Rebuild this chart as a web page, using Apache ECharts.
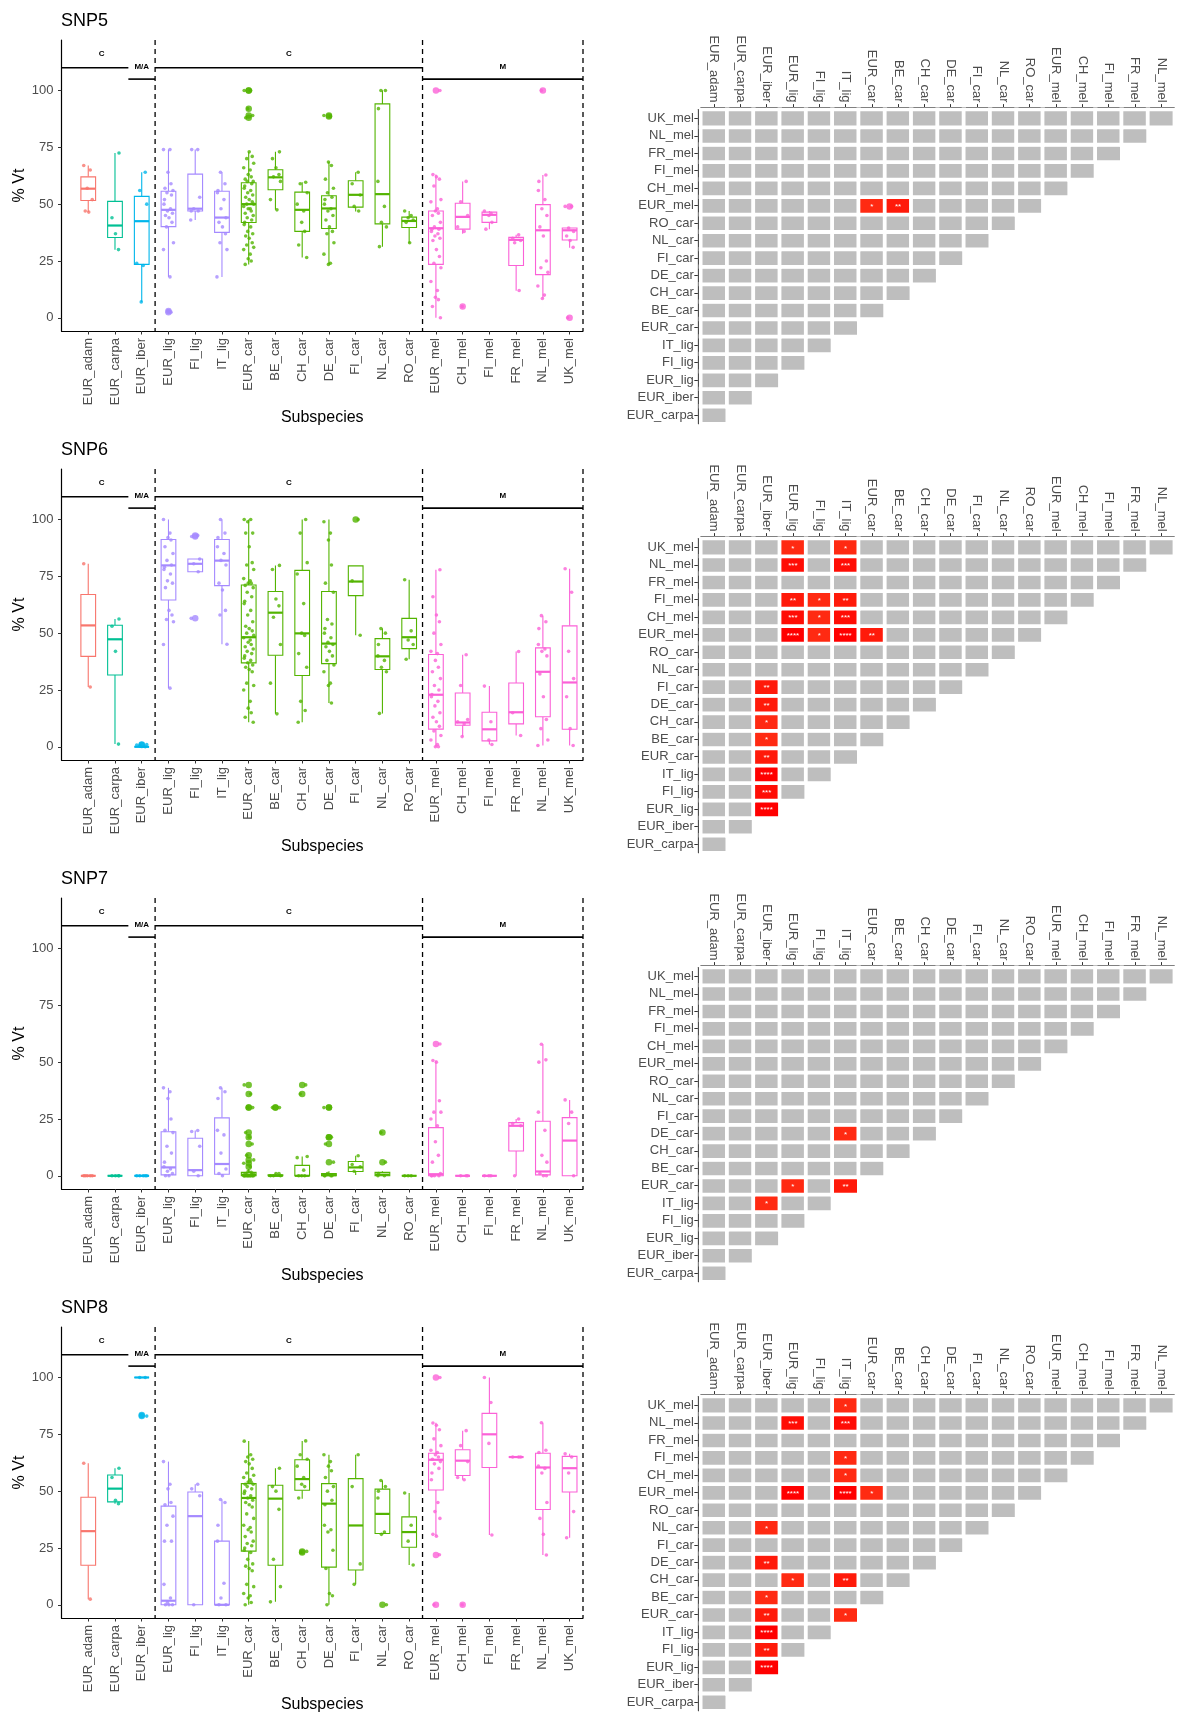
<!DOCTYPE html>
<html><head><meta charset="utf-8">
<script src="https://cdn.jsdelivr.net/npm/echarts@6/dist/echarts.min.js"></script>
<style>html,body{margin:0;padding:0;background:#fff}#chart{width:1178px;height:1716px}</style>
</head><body><div id="chart"></div>
<script>
// ---------- categories ----------
const groups = ['EUR_adam','EUR_carpa','EUR_iber','EUR_lig','FI_lig','IT_lig','EUR_car','BE_car','CH_car','DE_car','FI_car','NL_car','RO_car','EUR_mel','CH_mel','FI_mel','FR_mel','NL_mel','UK_mel'];
const heatCols = groups.slice(0, 18);
const heatRows = groups.slice(1);
const yTicks = [0, 25, 50, 75, 100];
const snpNames = ['SNP5', 'SNP6', 'SNP7', 'SNP8'];

// bracket annotations: [x1, x2, y], labels [x, y, text], dashed dividers
const bracketLines = [[0, 2.5, 110], [2.5, 3.5, 105], [3.5, 13.5, 110], [13.5, 19.5, 105]];
const bracketText = [[1.5, 116, 'C'], [3, 110.5, 'M/A'], [8.5, 116, 'C'], [16.5, 110.5, 'M']];
const dividerX = [3.5, 13.5, 19.5];

// ---------- box stats [low whisker, Q1, median, Q3, high whisker] ----------
const snp5Box = [[46.5,51.6,56.8,62,67],[29.9,35.3,40.6,51.2,72.5],[7,23.5,42.5,53.4,64],[18,40.1,47.5,55.7,74],[43,47,48,63.2,74],[18,37.6,44.1,55.7,64],[23.5,41.9,50,59.4,73],[47.5,56.3,61.8,65.1,73],[26.5,38,47.5,55.3,59.6],[23.5,39.3,48.1,53.7,68.5],[46.8,48.7,54.1,60.3,64],[31.3,41.3,54.4,94.1,100],[32.8,39.7,42.6,44.3,47],[0,23.5,39.4,47,63],[37,39,44.4,50.4,60],[39,42,45.3,46.5,47],[11.9,23,34.3,35.4,36.5],[8.5,19,38.5,49.8,62.8],[30.8,34.2,38.5,39.5,39.5]];
const snp6Box = [[26.3,39.8,53.4,67,80.5],[1.2,31.6,47.3,53.5,56.2],[0,0,0,0,0],[25.8,64.6,79.8,91.2,100],[77,77,80.5,82.6,82.6],[45.1,70.9,81.9,91.2,100],[10.8,36.9,48.2,71.2,100],[14.5,40.3,59,68.3,79.8],[10.8,31.4,49.9,77.6,100],[19.3,36.6,45.4,68.3,100],[49.1,66.5,72.7,79.6,79.6],[14.7,34,39.8,47.6,52],[38.5,43.2,48.2,56.5,73.5],[0,7.8,22.9,40.6,77.9],[4.5,9.5,10.7,23.7,40.5],[1,2.6,7.7,15.2,26.7],[5,10.1,15.2,28.1,41.9],[0.6,13.2,33,43.5,57.7],[0.6,7.7,28.3,53.2,78.3]];
const snp7Box = [[0,0,0,0,0],[0,0,0,0,0],[0,0,0,0,0],[0,0.4,3.7,19.4,38.7],[0,0,2.5,16.5,19.9],[0,0.7,5.2,25.5,38.7],[0,0,0.5,1.5,3],[0,0,0,0.5,1],[0,0,0,4.6,8.5],[0,0,0.3,1,2],[0.4,1.9,3.7,6.3,8.8],[0,0,0.5,1.5,2],[0,0,0,0,0],[0,0,0.7,21.2,50.7],[0,0,0,0,0],[0,0,0,0,0],[0,10.9,22,23.4,25],[0,0.4,1.9,24,57.9],[0,0,15.5,25.6,33.4]];
const snp8Box = [[2.5,17.4,32.4,47.3,62.3],[44.5,45.3,51.1,57.1,60.1],[100,100,100,100,100],[0,0,1.8,43.4,63],[0,0,39,49.6,53],[0,0,0,28,46.3],[0,23.6,47,53.3,72.1],[1.3,17.4,46.7,52.6,60.1],[46.7,50.4,55.3,63.8,72.1],[0,16.6,44.5,53.3,66],[9,15.3,34.9,55.5,66],[31,31.4,40,50.9,54.7],[17.5,25.3,32,38.7,49.2],[30.2,50.5,63.8,66.7,80.1],[55,56.9,63.4,68.2,76.6],[30.7,60.4,75,84.2,100],[65,65,65,65,65],[21.9,41.9,60.4,66.7,80.1],[29.5,49.6,60.1,65.3,66.4]];

// ---------- outliers per group ----------
const snp5Out = [[],[],[],[3,2.5],[],[],[100,100,92,89,88],[],[],[89,88.5],[],[],[],[100],[5],[],[],[100],[49,0]];
const snp6Out = [[],[],[1,0.8],[],[93,92.5,56.5],[],[],[],[],[],[100],[],[],[],[],[],[],[],[]];
const snp7Out = [[],[],[],[],[],[],[40,36,30,30,19,17,14,9,7,5.5,4],[30,30],[40,36],[30,30,17,17,14,6],[],[19,6],[],[58],[],[],[],[],[]];
const snp8Out = [[],[],[83,83.5],[],[],[],[],[],[23.4,23],[],[],[0],[],[100,21.9,0],[0],[],[],[],[]];

// ---------- individual observations per group ----------
const snp5Pts = [
 [67,65,57,52,47,46.5],[72.5,44,37,30],[64,56,50,24,23,7],
 [74,74,64,59,57,56,55,54,52,50,48,47,46,45,44,42,40,33,30,18,3,2.5],
 [74,74,53,48,47,47,43],[64,59,56,55,52,48,44,42,40,37,33,30,18],
 [100,100,92,89,88,73,71,70,68,66,65,63,62,61,60,60,59,58,57,56,55,54,53,52,51,50,50,49,48,48,47,46,45,44,43,42,41,40,38,37,36,35,33,32,31,30,28,26,25,23.5],
 [73,70,66,63,62,60,52,47.5],[59.6,59,55,50,47,42,38,32,26.5],
 [89,88.5,68.5,67,61,57,55,53,52,50,48,47,45,43,40,38,37,33,28,24,23.5],
 [64,59,54,49,47],[100,100,92,60,49,42,40,31.3],[47,45,44,43,42,33],
 [100,63,62,61,58,52,51,48,47,46,45,42,40,39,39,38,37,36,35,34,30,27,24,22,16,12,9,8,5,0],
 [60,51,45,40,38,5],[47,46,45,42,39],[36.5,35,34,33,12],
 [100,62.8,60,56,52,48,45,40,36,25,22,20,14,10,8.5],[49,49,39.5,38,36,34,31,0]];
const snp6Pts = [
 [80.5,26.3],[56.2,53,42,1.2],[0,0.5,1,0.8],
 [100,94,92,91,88,85,82,80,79,78,76,73,72,70,60,58,56,55,45,25.8],
 [93,92.5,82.6,80.5,77,56.5],[100,94,92,88,85,82,80,72,69,60,58,45.1],
 [100,100,99,94,94,88,81,80,78,74,73,72,72,71,70,68,66,64,63,60,58,55,53,52,51,50,49,48,47,46,45,44,43,42,41,40,39,38,37,36,35,34,33,28,27,25,20,17,15,13,10.8],
 [79.8,78,65,62,57,45,28,14.5],[100,94,81,76,63,50,49,41,35,20,16,10.8],
 [99,94,91,80,72,68,56,54,52,50,48,46,45,44,42,40,38,36,33,28,27,19.3],
 [100,73,49.1],[52,50,45,40,38,35,33,14.7],[73.5,51,47,45,38.5],
 [77.9,66,58,55,50,45,42,41,38,35,33,30,27,25,23,22,20,18,15,13,11,9,7,5,3,1,0,0],
 [40.5,27,12,11,10,4.5],[26.7,11,3,1],[41.9,15,5],
 [57.7,55,52,45,43,42,40,32,22,12,8,3,0.6],[78.3,68,42,30,22,8,0.6]];
const snp7Pts = [
 [0,0,0,0,0],[0,0,0,0],[0,0,0,0,0],
 [38.7,37,34,25,20,19,13,10,6,4,3,2,1,0,0],[19.9,19.5,13,2,0],[38.7,37,34,20,18,10,3,1,0],
 [40,36,30,30,19,17,14,9,7,5.5,4,2,1.5,1,1,0.5,0.5,0,0,0,0,0,0,0,0,0,0,0,0,0],
 [30,30,1,1,0,0,0],[40,36,8.5,8,2.5,0,0,0],[30,30,17,17,14,6,1,0,0,0,0],
 [8.8,5,4,2],[19,6,1,0,0],[0,0,0],
 [58,50.7,50,33,28,28,25,22,15,9,6,1,0,0,0,0],
 [0,0,0],[0,0,0],[25,23,22,0],[57.9,51,50,28,20,9,6,1,0,0],[33.4,28,23,0]];
const snp8Pts = [
 [62.3,2.5],[60.1,56,46,44.5],[100,100,83],
 [63,53,51,45,44,39,35,28,28,9,3,1,0,0,0],[53,51,48,0],[46.3,45,35,28,9.5,3,0,0],
 [72,66,65,64,63,62,60,58,57,56,55,54,54,53,53,52,51,50,49,48,47,46,45,44,43,40,38,35,34,33,32,30,28,27,26,25,24,23,20,18,17,16,15,9,8,5,4,3,1,0],
 [60.1,52,50,42,20,8,1.3],[72.1,66,64,61,56,53,52,47,23.5,23],
 [66,63,61,59,56,52,50,46,44,35,33,32,24,16,5,4,0],
 [66,52,18,9],[54.7,52,50,47,32,31,0],[49.2,35,28,17.5],
 [100,80,79,77,73,70,68,67,66,65,64,63,62,60,58,55,45,41,38,31,30.2,22,0],
 [76.6,70,63,56,55,0],[100,89,71,30.7],[65,65,65],
 [80.1,68,67,61,60,58,45,38,31,21.9],[66.4,65,58,41,29.5]];

// ---------- pairwise significance [row, column, label] ----------
const snp5Sig = [['EUR_mel','EUR_car','*'],['EUR_mel','BE_car','**']];
const snp6Sig = [['UK_mel','EUR_lig','*'],['UK_mel','IT_lig','*'],['NL_mel','EUR_lig','***'],['NL_mel','IT_lig','***'],['FI_mel','EUR_lig','**'],['FI_mel','FI_lig','*'],['FI_mel','IT_lig','**'],['CH_mel','EUR_lig','***'],['CH_mel','FI_lig','*'],['CH_mel','IT_lig','***'],['EUR_mel','EUR_lig','****'],['EUR_mel','FI_lig','*'],['EUR_mel','IT_lig','****'],['EUR_mel','EUR_car','**'],['FI_car','EUR_iber','**'],['DE_car','EUR_iber','**'],['CH_car','EUR_iber','*'],['BE_car','EUR_iber','*'],['EUR_car','EUR_iber','**'],['IT_lig','EUR_iber','****'],['FI_lig','EUR_iber','***'],['EUR_lig','EUR_iber','****']];
const snp7Sig = [['DE_car','IT_lig','*'],['EUR_car','EUR_lig','*'],['EUR_car','IT_lig','**'],['IT_lig','EUR_iber','*']];
const snp8Sig = [['UK_mel','IT_lig','*'],['NL_mel','EUR_lig','***'],['NL_mel','IT_lig','***'],['FI_mel','IT_lig','*'],['CH_mel','IT_lig','*'],['EUR_mel','EUR_lig','****'],['EUR_mel','IT_lig','****'],['EUR_mel','EUR_car','*'],['NL_car','EUR_iber','*'],['DE_car','EUR_iber','**'],['CH_car','EUR_lig','*'],['CH_car','IT_lig','**'],['BE_car','EUR_iber','*'],['EUR_car','EUR_iber','**'],['EUR_car','IT_lig','*'],['IT_lig','EUR_iber','****'],['FI_lig','EUR_iber','**'],['EUR_lig','EUR_iber','****']];

// ---------- styles ----------
const lineageColor = {adam:'#F8766D', carpa:'#00C094', iber:'#00B6EB', lig:'#A58AFF', car:'#53B400', mel:'#FB61D7'};
const groupColors = groups.map(g => lineageColor[g.split('_')[1]]);
const jit = [-4.5, 2, -1, 4, -3, 0.5, 3.5, -2, 5, -5, 1.5, -0.5, 2.5, -3.5, 4.5, -1.5, 3, -4];
const FONT = 'Liberation Sans, Arial, Helvetica, sans-serif';
const PERIOD = 429;
const YMIN = -5.8, YMAX = 122.2;

const allBox = [snp5Box, snp6Box, snp7Box, snp8Box];
const allOut = [snp5Out, snp6Out, snp7Out, snp8Out];
const allPts = [snp5Pts, snp6Pts, snp7Pts, snp8Pts];
const allSig = [snp5Sig, snp6Sig, snp7Sig, snp8Sig];

const grids = [], xAxes = [], yAxes = [], titles = [], series = [], heatIdx = [];
const xIdx = groups.map((g, i) => i + 1);

function renderBox(params, api) {
  const x = api.value(0);
  const c = groupColors[x - 1];
  const lo = api.coord([x, api.value(1)]);
  const q1 = api.coord([x, api.value(2)]);
  const md = api.coord([x, api.value(3)]);
  const q3 = api.coord([x, api.value(4)]);
  const hi = api.coord([x, api.value(5)]);
  const hw = api.size([0.55, 0])[0] / 2;
  return {type: 'group', children: [
    {type: 'line', shape: {x1: lo[0], y1: lo[1], x2: q1[0], y2: q1[1]}, style: {stroke: c, lineWidth: 1.1}},
    {type: 'line', shape: {x1: q3[0], y1: q3[1], x2: hi[0], y2: hi[1]}, style: {stroke: c, lineWidth: 1.1}},
    {type: 'rect', shape: {x: q3[0] - hw, y: q3[1], width: 2 * hw, height: q1[1] - q3[1]}, style: {fill: '#fff', stroke: c, lineWidth: 1.1}},
    {type: 'line', shape: {x1: md[0] - hw, y1: md[1], x2: md[0] + hw, y2: md[1]}, style: {stroke: c, lineWidth: 2.2}}
  ]};
}

snpNames.forEach((name, k) => {
  const off = PERIOD * k;
  const gB = 2 * k, gH = 2 * k + 1;
  titles.push({text: name, left: 61, top: off + 12, padding: 0,
    textStyle: {fontSize: 18, fontWeight: 'normal', color: '#000', fontFamily: FONT}});
  grids.push({left: 61.5, top: 40 + off, width: 521.5, height: 291});
  grids.push({left: 700.85, top: 109.6 + off, width: 473.4, height: 314.1});

  xAxes.push({type: 'value', gridIndex: gB, min: 0, max: 19.5, interval: 1,
    name: 'Subspecies', nameLocation: 'middle', nameGap: 76,
    nameTextStyle: {fontSize: 16, color: '#000', fontFamily: FONT},
    axisLine: {show: true, onZero: false, lineStyle: {color: '#000', width: 1.2}},
    axisTick: {show: true, length: 3.5, customValues: xIdx, lineStyle: {color: '#333', width: 1}},
    axisLabel: {customValues: xIdx, rotate: 90, margin: 7, fontSize: 13, color: '#4D4D4D', fontFamily: FONT,
      formatter: v => groups[Math.round(v) - 1] || ''},
    splitLine: {show: false}});
  yAxes.push({type: 'value', gridIndex: gB, min: YMIN, max: YMAX,
    name: '% Vt', nameLocation: 'middle', nameGap: 34, nameRotate: 90,
    nameTextStyle: {fontSize: 16, color: '#000', fontFamily: FONT},
    axisLine: {show: true, onZero: false, lineStyle: {color: '#000', width: 1.2}},
    axisTick: {show: true, length: 3.5, customValues: yTicks, lineStyle: {color: '#333', width: 1}},
    axisLabel: {customValues: yTicks, margin: 8, fontSize: 13, color: '#4D4D4D', fontFamily: FONT},
    splitLine: {show: false}});

  xAxes.push({type: 'category', gridIndex: gH, data: heatCols, position: 'top', offset: 2,
    axisLine: {show: true, lineStyle: {color: '#000', width: 1.2}},
    axisTick: {show: true, alignWithLabel: true, length: 3.5, lineStyle: {color: '#333'}},
    axisLabel: {rotate: 90, margin: 5, fontSize: 13, color: '#4D4D4D', fontFamily: FONT, interval: 0},
    splitLine: {show: false}});
  yAxes.push({type: 'category', gridIndex: gH, data: heatRows, offset: 3,
    axisLine: {show: true, lineStyle: {color: '#000', width: 1.2}},
    axisTick: {show: true, alignWithLabel: true, length: 3.5, lineStyle: {color: '#333'}},
    axisLabel: {margin: 4, fontSize: 13, color: '#4D4D4D', fontFamily: FONT, interval: 0},
    splitLine: {show: false}});

  // boxes
  series.push({type: 'custom', xAxisIndex: gB, yAxisIndex: gB, clip: false,
    data: allBox[k].map((b, i) => [i + 1].concat(b)),
    encode: {x: 0, y: [1, 2, 3, 4, 5]}, renderItem: renderBox, silent: true, z: 2});
  // outliers
  const outData = [];
  allOut[k].forEach((arr, i) => arr.forEach(v => outData.push({value: [i + 1, v], itemStyle: {color: groupColors[i]}})));
  series.push({type: 'scatter', xAxisIndex: gB, yAxisIndex: gB, symbol: 'circle', symbolSize: 6.5,
    data: outData, silent: true, z: 3});
  // jittered observations
  const ptData = [];
  allPts[k].forEach((arr, i) => arr.forEach((v, j) => ptData.push({
    value: [i + 1, v], symbolOffset: [jit[(j + 3 * i) % jit.length], 0], itemStyle: {color: groupColors[i]}})));
  series.push({type: 'scatter', xAxisIndex: gB, yAxisIndex: gB, symbol: 'circle', symbolSize: 3.6,
    data: ptData, silent: true, z: 4});
  // bracket lines
  series.push({type: 'custom', xAxisIndex: gB, yAxisIndex: gB, clip: false, silent: true, z: 5,
    data: bracketLines, encode: {x: [0, 1], y: 2},
    renderItem: (p, api) => {
      const a = api.coord([api.value(0), api.value(2)]), b = api.coord([api.value(1), api.value(2)]);
      return {type: 'line', shape: {x1: a[0], y1: a[1], x2: b[0], y2: b[1]}, style: {stroke: '#000', lineWidth: 1.6}};
    }});
  // bracket labels
  series.push({type: 'custom', xAxisIndex: gB, yAxisIndex: gB, clip: false, silent: true, z: 5,
    data: bracketText.map(t => [t[0], t[1]]), encode: {x: 0, y: 1},
    renderItem: (p, api) => {
      const a = api.coord([api.value(0), api.value(1)]);
      return {type: 'text', x: a[0], y: a[1], style: {text: bracketText[p.dataIndex][2], fill: '#000',
        font: 'bold 8px ' + FONT, align: 'center', verticalAlign: 'middle'}};
    }});
  // dashed dividers
  series.push({type: 'custom', xAxisIndex: gB, yAxisIndex: gB, clip: false, silent: true, z: 5,
    data: dividerX.map(x => [x]), encode: {x: 0},
    renderItem: (p, api) => {
      const a = api.coord([api.value(0), YMIN]);
      const cs = p.coordSys;
      return {type: 'line', shape: {x1: a[0], y1: cs.y, x2: a[0], y2: cs.y + cs.height},
        style: {stroke: '#000', lineWidth: 1.3, lineDash: [5, 4]}};
    }});

  // heatmap
  const hData = [];
  heatRows.forEach((r, yi) => {
    for (let xi = 0; xi <= yi; xi++) {
      const s = allSig[k].find(e => e[0] === r && e[1] === heatCols[xi]);
      const item = {value: [xi, yi, s ? s[2].length : 0]};
      if (s) item.label = {show: true, formatter: s[2]};
      hData.push(item);
    }
  });
  heatIdx.push(series.length);
  series.push({type: 'heatmap', xAxisIndex: gH, yAxisIndex: gH, data: hData, silent: true,
    itemStyle: {borderColor: '#fff', borderWidth: 3.8},
    label: {show: false, color: '#fff', fontSize: 8, fontFamily: FONT, offset: [0, 1]},
    emphasis: {disabled: true}});
});

const option = {
  animation: false,
  backgroundColor: '#fff',
  textStyle: {fontFamily: FONT},
  title: titles,
  grid: grids,
  xAxis: xAxes,
  yAxis: yAxes,
  visualMap: {type: 'piecewise', show: false, dimension: 2, seriesIndex: heatIdx,
    pieces: [{value: 0, color: '#BEBEBE'}, {value: 1, color: '#FF2A12'}, {value: 2, color: '#FF1A0A'},
             {value: 3, color: '#FF0D05'}, {value: 4, color: '#FF0000'}]},
  series: series
};

const chart = echarts.init(document.getElementById('chart'), null, {renderer: 'canvas', width: 1178, height: 1716});
chart.setOption(option);
</script></body></html>
